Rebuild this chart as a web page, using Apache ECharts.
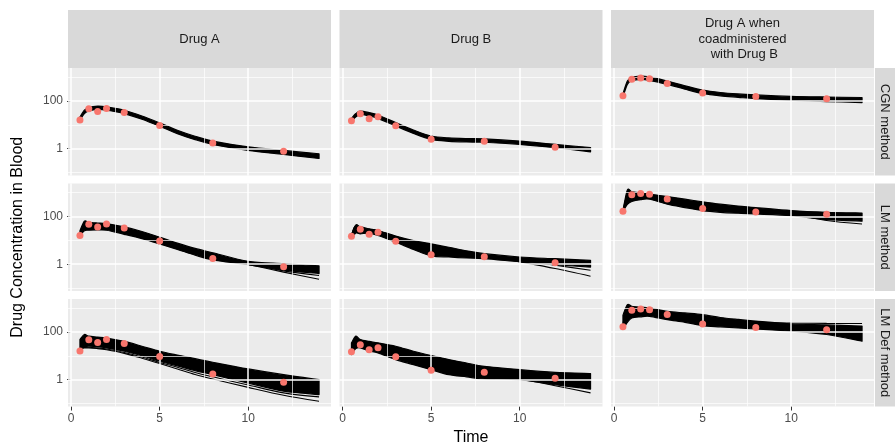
<!DOCTYPE html>
<html><head><meta charset="utf-8">
<script src="https://cdn.jsdelivr.net/npm/echarts@6/dist/echarts.min.js"></script>
<style>html,body{margin:0;padding:0;background:#fff}#c{width:895px;height:446px}</style>
</head><body><div id="c"></div>
<script>
// ---------- labels ----------
const drugs = ['Drug A', 'Drug B', 'Drug A when\ncoadministered\n with Drug B'];
const methods = ['CGN method', 'LM method', 'LM Def method'];
const xTitle = 'Time';
const yTitle = 'Drug Concentration in Blood';
const xTicks = [0, 5, 10];
const xMinor = [2.5, 7.5, 12.5];
const yTicks = [1, 100];
const yMinor = [0.1, 10, 1000];

// ---------- observed data ----------
const obsTime = [0.5, 1, 1.5, 2, 3, 5, 8, 12];
const obsDrugA = [15.8, 47, 36, 48, 33, 9.3, 1.75, 0.78];
const obsDrugB = [14.7, 28.8, 17.8, 21.9, 9.1, 2.5, 2.07, 1.15];
const obsDrugACo = [162, 794, 902, 832, 531, 211, 153, 124];

// ---------- simulated curves (upper / lower edge of the band + stray curves) ----------
const simTime = [0.5, 0.75, 1, 1.5, 2, 3, 4, 5, 6, 7, 8, 10, 12, 14];

const cgnA_hi = [21.4, 40.7, 52.5, 60.3, 56.2, 40.7, 23.4, 12.0, 5.89, 3.31, 2.09, 1.20, 0.851, 0.617];
const cgnA_lo = [15.5, 29.5, 38.0, 43.7, 40.7, 29.5, 17.0, 8.71, 4.27, 2.40, 1.51, 0.851, 0.575, 0.389];

const cgnB_hi = [18.6, 29.5, 37.2, 32.4, 25.7, 12.3, 6.03, 3.39, 2.82, 2.63, 2.57, 2.09, 1.51, 1.12];
const cgnB_lo = [13.5, 21.4, 26.9, 23.4, 18.6, 8.91, 4.37, 2.45, 2.04, 1.91, 1.86, 1.51, 1.10, 0.741];

const cgnAco_hi = [200, 676, 955, 1096, 1000, 676, 427, 282, 224, 195, 178, 155, 145, 138];
const cgnAco_lo = [145, 490, 692, 794, 724, 490, 309, 204, 162, 141, 123, 105, 93.3, 85.1];

const lmA_hi = [25.1, 63.1, 56.2, 52.5, 50.1, 36.3, 23.4, 13.5, 7.59, 4.57, 3.02, 1.32, 1.05, 0.851];
const lmA_lo = [15.8, 25.1, 26.3, 26.9, 26.3, 17.8, 11.7, 7.08, 4.17, 2.40, 1.51, 0.955, 0.562, 0.407];
const lmA_x1 = [17.8, 44.7, 41.7, 41.7, 39.8, 28.2, 17.8, 10.0, 5.62, 3.31, 2.00, 1.00, 0.525, 0.339];
const lmA_x2 = [17.8, 50.1, 45.7, 44.7, 42.7, 30.2, 19.1, 10.5, 5.75, 3.31, 2.00, 0.977, 0.468, 0.234];

const lmB_hi = [16.6, 43.7, 36.3, 30.2, 25.7, 15.1, 9.77, 7.08, 5.13, 3.63, 2.75, 2.00, 1.70, 1.45];
const lmB_lo = [12.0, 20.0, 18.6, 20.0, 15.8, 8.32, 4.17, 2.24, 2.00, 1.82, 1.70, 1.26, 0.955, 0.759];
const lmB_x1 = [15.8, 39.8, 33.1, 28.2, 24.0, 14.1, 8.91, 6.31, 4.57, 3.31, 2.40, 1.48, 0.912, 0.562];
const lmB_x2 = [15.8, 41.7, 34.7, 28.8, 24.5, 14.5, 9.12, 6.61, 4.68, 3.31, 2.34, 1.26, 0.661, 0.316];

const lmAco_hi = [178, 1259, 1072, 955, 851, 676, 525, 407, 324, 269, 234, 174, 148, 138];
const lmAco_lo = [158, 316, 417, 501, 525, 324, 234, 174, 148, 135, 126, 107, 72.4, 63.1];
const lmAco_x1 = [166, 794, 891, 832, 759, 603, 457, 355, 282, 229, 191, 132, 67.6, 47.9];

const ldA_hi = [47.9, 77.6, 66.1, 60.3, 55.0, 39.8, 25.1, 15.5, 10.7, 7.59, 5.37, 2.82, 1.62, 1.00];
const ldA_lo = [21.4, 24.0, 25.1, 24.0, 21.4, 15.5, 10.0, 5.89, 3.80, 2.40, 1.62, 0.724, 0.331, 0.240];
const ldA_x1 = [20.0, 22.4, 22.9, 21.4, 19.1, 13.8, 8.91, 5.25, 3.31, 2.00, 1.32, 0.603, 0.282, 0.191];
const ldA_x2 = [20.0, 21.4, 21.4, 20.0, 17.8, 12.6, 7.94, 4.79, 2.82, 1.66, 1.07, 0.479, 0.224, 0.126];

const ldB_hi = [34.7, 66.1, 47.9, 39.8, 34.7, 25.1, 15.5, 10.2, 6.92, 5.01, 3.63, 2.63, 2.04, 1.82];
const ldB_lo = [11.2, 20.0, 21.4, 15.8, 13.2, 6.92, 4.27, 2.63, 1.62, 1.32, 1.07, 1.00, 0.617, 0.407];
const ldB_x1 = [12.6, 25.1, 25.1, 19.1, 15.8, 8.91, 5.62, 3.55, 2.24, 1.66, 1.32, 1.05, 0.562, 0.282];

const ldAco_hi = [501, 1380, 1175, 1072, 1000, 724, 617, 525, 398, 331, 282, 214, 195, 174];
const ldAco_lo = [126, 251, 380, 427, 447, 324, 251, 182, 162, 145, 132, 107, 77.6, 40.7];
const ldAco_x1 = [200, 1000, 1000, 955, 891, 661, 525, 417, 331, 282, 251, 234, 226, 224];

// ---------- panel assembly ----------
const panels = [
  {r: 0, c: 0, hi: cgnA_hi, lo: cgnA_lo, extra: [], obs: obsDrugA},
  {r: 0, c: 1, hi: cgnB_hi, lo: cgnB_lo, extra: [], obs: obsDrugB},
  {r: 0, c: 2, hi: cgnAco_hi, lo: cgnAco_lo, extra: [], obs: obsDrugACo},
  {r: 1, c: 0, hi: lmA_hi, lo: lmA_lo, extra: [lmA_x1, lmA_x2], obs: obsDrugA},
  {r: 1, c: 1, hi: lmB_hi, lo: lmB_lo, extra: [lmB_x1, lmB_x2], obs: obsDrugB},
  {r: 1, c: 2, hi: lmAco_hi, lo: lmAco_lo, extra: [lmAco_x1], obs: obsDrugACo},
  {r: 2, c: 0, hi: ldA_hi, lo: ldA_lo, extra: [ldA_x1, ldA_x2], obs: obsDrugA},
  {r: 2, c: 1, hi: ldB_hi, lo: ldB_lo, extra: [ldB_x1], obs: obsDrugB},
  {r: 2, c: 2, hi: ldAco_hi, lo: ldAco_lo, extra: [ldAco_x1], obs: obsDrugACo}
];

const FONT = '"Liberation Sans", Arial, Helvetica, sans-serif';
const colLeft = [68, 339.5, 611];
const panelW = 263;
const rowTop = [68, 183.5, 299];
const panelH = 107.5;
const stripTop = 10;
const stripRight = 875;
const X_MIN = -0.175, X_MAX = 14.675;
const Y_MIN = 0.0759, Y_MAX = 2366;

// cardinal-spline path through pixel points (rendering only)
function splineCmds(pts) {
  const k = 0.15;
  let d = '';
  for (let i = 0; i < pts.length - 1; i++) {
    const p0 = pts[Math.max(i - 1, 0)], p1 = pts[i], p2 = pts[i + 1], p3 = pts[Math.min(i + 2, pts.length - 1)];
    const c1 = [p1[0] + (p2[0] - p0[0]) * k, p1[1] + (p2[1] - p0[1]) * k];
    const c2 = [p2[0] - (p3[0] - p1[0]) * k, p2[1] - (p3[1] - p1[1]) * k];
    d += 'C' + c1[0].toFixed(2) + ',' + c1[1].toFixed(2) + ' ' + c2[0].toFixed(2) + ',' + c2[1].toFixed(2) + ' ' + p2[0].toFixed(2) + ',' + p2[1].toFixed(2);
  }
  return d;
}

const grids = [], xAxes = [], yAxes = [], series = [], graphics = [];

panels.forEach((p, i) => {
  grids.push({left: colLeft[p.c], top: rowTop[p.r], width: panelW, height: panelH,
    show: true, backgroundColor: '#EBEBEB', borderWidth: 0});
  xAxes.push({gridIndex: i, type: 'value', min: X_MIN, max: X_MAX,
    splitLine: {show: false}, axisLine: {show: false},
    axisTick: {show: p.r === 2, length: 4, customValues: xTicks, lineStyle: {color: '#333333', width: 1}},
    axisLabel: {show: p.r === 2, customValues: xTicks, color: '#4D4D4D', fontSize: 12, fontFamily: FONT, margin: 6}});
  yAxes.push({gridIndex: i, type: 'log', logBase: 10, min: Y_MIN, max: Y_MAX,
    splitLine: {show: false}, axisLine: {show: false},
    axisTick: {show: p.c === 0, length: 4, customValues: yTicks, lineStyle: {color: '#333333', width: 1}},
    axisLabel: {show: p.c === 0, customValues: yTicks, color: '#4D4D4D', fontSize: 12, fontFamily: FONT, margin: 5,
      formatter: v => String(v)}});

  const gl = [];
  xTicks.forEach(v => gl.push({xAxis: v, lineStyle: {width: 1.5}}));
  xMinor.forEach(v => gl.push({xAxis: v, lineStyle: {width: 0.7}}));
  yTicks.forEach(v => gl.push({yAxis: v, lineStyle: {width: 1.5}}));
  yMinor.forEach(v => gl.push({yAxis: v, lineStyle: {width: 0.7}}));
  series.push({type: 'line', xAxisIndex: i, yAxisIndex: i, data: [], z: 1, silent: true,
    markLine: {silent: true, symbol: ['none', 'none'], label: {show: false}, animation: false,
      lineStyle: {color: '#FFFFFF', type: 'solid'}, emphasis: {disabled: true}, data: gl}});

  const hi = p.hi, lo = p.lo;
  series.push({type: 'custom', xAxisIndex: i, yAxisIndex: i, z: 2, silent: true, animation: false,
    data: simTime.map((t, k) => [t, lo[k], hi[k]]),
    encode: {x: 0, y: [1, 2]},
    renderItem: (params, api) => {
      if (params.dataIndex !== 0) return null;
      const up = simTime.map((t, k) => api.coord([t, hi[k]]));
      const dn = simTime.map((t, k) => api.coord([t, lo[k]])).reverse();
      const d = 'M' + up[0][0].toFixed(2) + ',' + up[0][1].toFixed(2) + splineCmds(up) +
        'L' + dn[0][0].toFixed(2) + ',' + dn[0][1].toFixed(2) + splineCmds(dn) + 'Z';
      return {type: 'path', shape: {pathData: d},
        style: {fill: '#000000', stroke: '#000000', lineWidth: 1.2, lineJoin: 'round'}};
    }});

  p.extra.forEach(arr => {
    series.push({type: 'line', xAxisIndex: i, yAxisIndex: i, z: 3, silent: true, animation: false,
      showSymbol: false, smooth: 0.3, lineStyle: {color: '#000000', width: 1.1},
      data: simTime.map((t, k) => [t, arr[k]])});
  });

  series.push({type: 'scatter', xAxisIndex: i, yAxisIndex: i, z: 5, silent: true, animation: false,
    symbolSize: 7, itemStyle: {color: '#F8766D', opacity: 1},
    data: obsTime.map((t, k) => [t, p.obs[k]])});
});

// strips
drugs.forEach((d, c) => {
  graphics.push({type: 'rect', shape: {x: colLeft[c], y: stripTop, width: panelW, height: rowTop[0] - stripTop},
    style: {fill: '#D9D9D9'}, silent: true});
  graphics.push({type: 'text', x: colLeft[c] + panelW / 2, y: (stripTop + rowTop[0]) / 2, silent: true,
    style: {text: d, fill: '#1A1A1A', fontSize: 13, fontFamily: FONT, align: 'center', verticalAlign: 'middle', lineHeight: 15.5}});
});
methods.forEach((m, r) => {
  graphics.push({type: 'rect', shape: {x: stripRight, y: rowTop[r], width: 895 - stripRight, height: panelH},
    style: {fill: '#D9D9D9'}, silent: true});
  graphics.push({type: 'text', x: stripRight + (895 - stripRight) / 2, y: rowTop[r] + panelH / 2, rotation: -Math.PI / 2, silent: true,
    style: {text: m, fill: '#1A1A1A', fontSize: 13, fontFamily: FONT, align: 'center', verticalAlign: 'middle'}});
});
graphics.push({type: 'text', x: colLeft[0] + (colLeft[2] + panelW - colLeft[0]) / 2, y: 438, silent: true,
  style: {text: xTitle, fill: '#000000', fontSize: 16, fontFamily: FONT, align: 'center', verticalAlign: 'middle'}});
graphics.push({type: 'text', x: 18, y: rowTop[0] + (rowTop[2] + panelH - rowTop[0]) / 2, rotation: Math.PI / 2, silent: true,
  style: {text: yTitle, fill: '#000000', fontSize: 16, fontFamily: FONT, align: 'center', verticalAlign: 'middle'}});

const chart = echarts.init(document.getElementById('c'), null, {renderer: 'canvas'});
chart.setOption({
  animation: false,
  backgroundColor: '#FFFFFF',
  grid: grids, xAxis: xAxes, yAxis: yAxes, series: series, graphic: graphics
});
</script>
</body></html>
